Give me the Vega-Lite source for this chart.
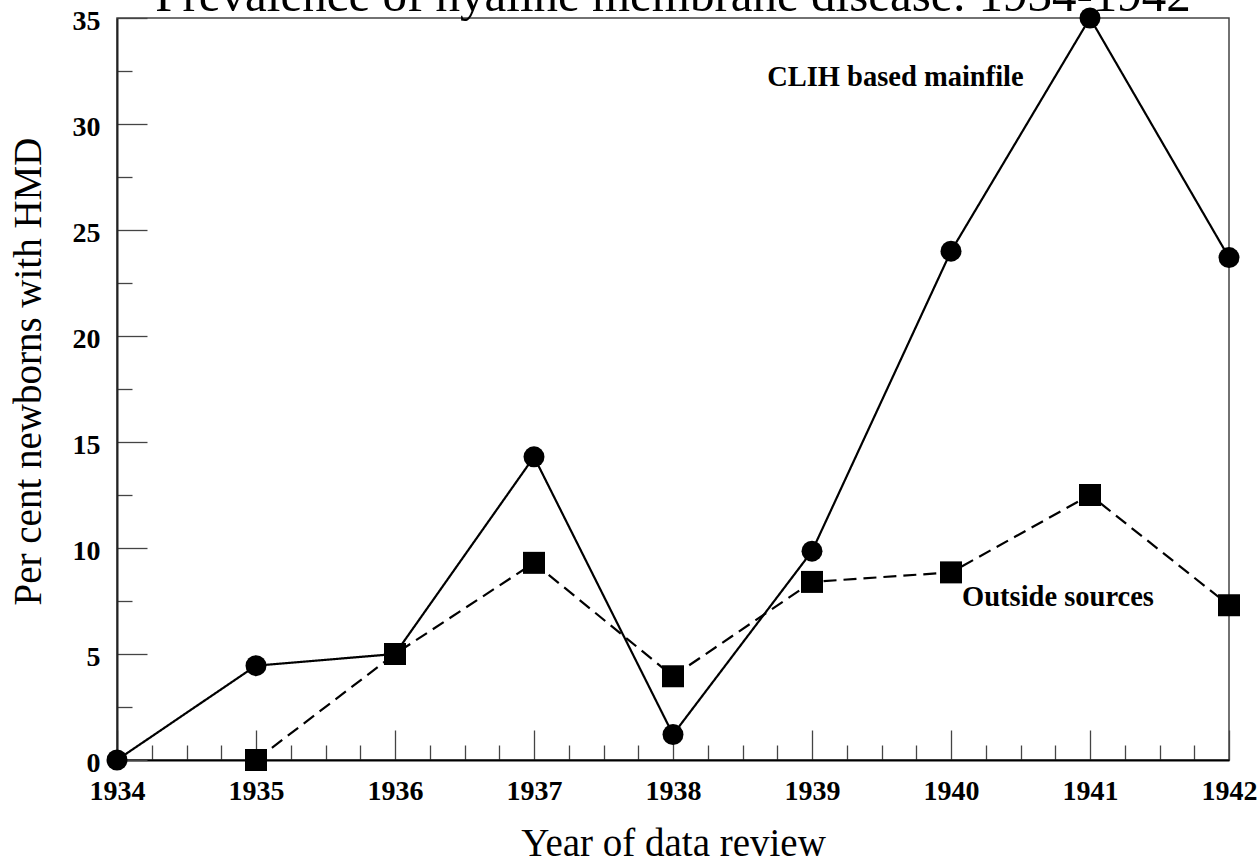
{
  "$schema": "https://vega.github.io/schema/vega-lite/v6.json",
  "width": 1112,
  "height": 742,
  "autosize": "none",
  "padding": {"left": 117, "top": 18, "right": 29, "bottom": 104},
  "background": "#ffffff",
  "title": {
    "text": "Prevalence of hyaline membrane disease: 1934-1942",
    "font": "Liberation Serif",
    "fontSize": 49,
    "fontWeight": "normal",
    "color": "#000000",
    "anchor": "middle",
    "baseline": "alphabetic",
    "offset": -53
  },
  "config": {
    "view": {"stroke": "#444444", "strokeWidth": 1.5}
  },
  "datasets": {
    "series": [
      {"year": 1934, "pct": 0, "series": "CLIH based mainfile"},
      {"year": 1935, "pct": 4.45, "series": "CLIH based mainfile"},
      {"year": 1936, "pct": 5.0, "series": "CLIH based mainfile"},
      {"year": 1937, "pct": 14.3, "series": "CLIH based mainfile"},
      {"year": 1938, "pct": 1.2, "series": "CLIH based mainfile"},
      {"year": 1939, "pct": 9.85, "series": "CLIH based mainfile"},
      {"year": 1940, "pct": 24.0, "series": "CLIH based mainfile"},
      {"year": 1941, "pct": 35.0, "series": "CLIH based mainfile"},
      {"year": 1942, "pct": 23.7, "series": "CLIH based mainfile"},
      {"year": 1935, "pct": 0, "series": "Outside sources"},
      {"year": 1936, "pct": 5.0, "series": "Outside sources"},
      {"year": 1937, "pct": 9.3, "series": "Outside sources"},
      {"year": 1938, "pct": 3.95, "series": "Outside sources"},
      {"year": 1939, "pct": 8.4, "series": "Outside sources"},
      {"year": 1940, "pct": 8.85, "series": "Outside sources"},
      {"year": 1941, "pct": 12.5, "series": "Outside sources"},
      {"year": 1942, "pct": 7.3, "series": "Outside sources"}
    ],
    "labels": [
      {"year": 1939.6, "pct": 32.2, "label": "CLIH based mainfile"},
      {"year": 1940.77, "pct": 7.7, "label": "Outside sources"}
    ]
  },
  "encoding": {
    "x": {
      "field": "year",
      "type": "quantitative",
      "scale": {"domain": [1934, 1942], "nice": false, "zero": false},
      "axis": {
        "title": "Year of data review",
        "titleFont": "Liberation Serif",
        "titleFontSize": 39,
        "titleFontWeight": "normal",
        "titleColor": "#000000",
        "titleBaseline": "alphabetic",
        "titleY": 95,
        "values": [1934, 1934.25, 1934.5, 1934.75, 1935, 1935.25, 1935.5, 1935.75, 1936, 1936.25, 1936.5, 1936.75, 1937, 1937.25, 1937.5, 1937.75, 1938, 1938.25, 1938.5, 1938.75, 1939, 1939.25, 1939.5, 1939.75, 1940, 1940.25, 1940.5, 1940.75, 1941, 1941.25, 1941.5, 1941.75, 1942],
        "labelExpr": "datum.value % 1 === 0 ? format(datum.value, 'd') : ''",
        "labelFont": "Liberation Serif",
        "labelFontSize": 28,
        "labelFontWeight": "bold",
        "labelColor": "#000000",
        "labelBaseline": "alphabetic",
        "labelPadding": 69,
        "labelOverlap": false,
        "labelFlush": false,
        "tickSize": {"condition": {"test": "datum.value % 1 === 0", "value": -30}, "value": -15},
        "tickColor": "#444444",
        "tickWidth": 1.3,
        "domainColor": "#000000",
        "domainWidth": 2,
        "grid": false
      }
    },
    "y": {
      "field": "pct",
      "type": "quantitative",
      "scale": {"domain": [0, 35], "nice": false},
      "axis": {
        "title": "Per cent newborns with HMD",
        "titleFont": "Liberation Serif",
        "titleFontSize": 39,
        "titleFontWeight": "normal",
        "titleColor": "#000000",
        "titleBaseline": "alphabetic",
        "titleX": -77,
        "titleY": 353,
        "values": [0, 2.5, 5, 7.5, 10, 12.5, 15, 17.5, 20, 22.5, 25, 27.5, 30, 32.5, 35],
        "labelExpr": "datum.value % 5 === 0 ? format(datum.value, 'd') : ''",
        "labelFont": "Liberation Serif",
        "labelFontSize": 28,
        "labelFontWeight": "bold",
        "labelColor": "#000000",
        "labelPadding": 47,
        "labelOffset": 3,
        "labelOverlap": false,
        "labelFlush": false,
        "tickSize": {"condition": {"test": "datum.value % 5 === 0", "value": -30}, "value": -15},
        "tickColor": "#444444",
        "tickWidth": 1.3,
        "domainColor": "#222222",
        "domainWidth": 2,
        "grid": false
      }
    }
  },
  "layer": [
    {
      "data": {"name": "series"},
      "mark": {"type": "line", "color": "#000000", "strokeWidth": 2.2},
      "encoding": {
        "detail": {"field": "series", "type": "nominal"},
        "strokeDash": {
          "field": "series",
          "type": "nominal",
          "scale": {"domain": ["CLIH based mainfile", "Outside sources"], "range": [[1, 0], [13, 7]]},
          "legend": null
        }
      }
    },
    {
      "data": {"name": "series"},
      "mark": {"type": "point", "filled": true, "color": "#000000", "opacity": 1, "strokeWidth": 0},
      "encoding": {
        "shape": {
          "field": "series",
          "type": "nominal",
          "scale": {"domain": ["CLIH based mainfile", "Outside sources"], "range": ["circle", "square"]},
          "legend": null
        },
        "size": {
          "field": "series",
          "type": "nominal",
          "scale": {"domain": ["CLIH based mainfile", "Outside sources"], "range": [440, 484]},
          "legend": null
        }
      }
    },
    {
      "data": {"name": "labels"},
      "mark": {"type": "text", "font": "Liberation Serif", "fontWeight": "bold", "fontSize": 28.5, "color": "#000000", "align": "center", "baseline": "middle"},
      "encoding": {
        "text": {"field": "label", "type": "nominal"}
      }
    }
  ]
}
